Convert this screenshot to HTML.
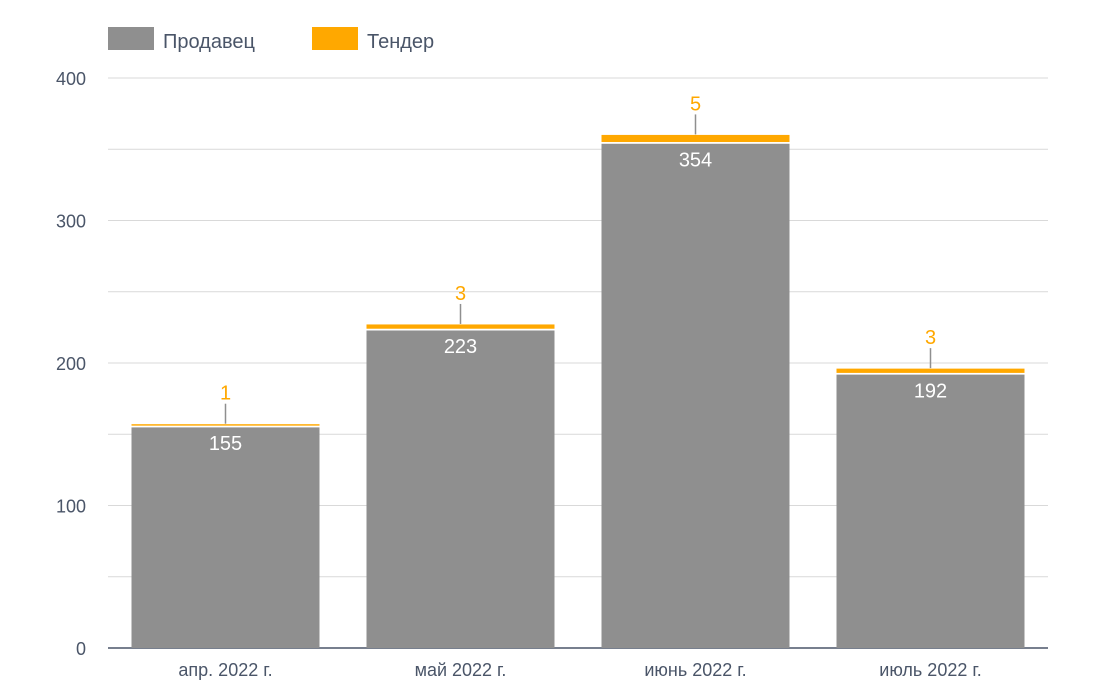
<!DOCTYPE html>
<html><head><meta charset="utf-8"><style>
body{margin:0;background:#fff;}
svg{font-family:"Liberation Sans","DejaVu Sans",sans-serif;}
</style></head><body>
<svg width="1110" height="692">
<g>
<rect x="108" y="27" width="46" height="23" fill="#8f8f8f"/>
<text x="163" y="48" font-size="20" fill="#4a5568">Продавец</text>
<rect x="312" y="27" width="46" height="23" fill="#ffa800"/>
<text x="367" y="48" font-size="20" fill="#4a5568">Тендер</text>
</g>
<g id="grid"></g><g id="bars"></g><g id="xlab"></g>
</svg>
<script>
const categories=["апр. 2022 г.","май 2022 г.","июнь 2022 г.","июль 2022 г."];
const seller=[155,223,354,192];
const tender=[1,3,5,3];
const yTicks=[0,100,200,300,400];
const ns="http://www.w3.org/2000/svg";
const X0=108,X1=1048,Y0=648,Y1=78,YMAX=400;
const y=v=>Y0-(v/YMAX)*(Y0-Y1);
const band=(X1-X0)/categories.length;
const bw=band*0.8;
function mk(tag,attrs,parent,text){const e=document.createElementNS(ns,tag);for(const k in attrs)e.setAttribute(k,attrs[k]);if(text!==undefined)e.textContent=text;document.getElementById(parent).appendChild(e);return e;}
for(let v=0;v<=YMAX;v+=50){
 const l=mk("line",{x1:X0,x2:X1,y1:y(v),y2:y(v),stroke:v===0?"#4a5568":"#d9d9d9","stroke-width":v===0?1.5:1},"grid");
 
 
}
yTicks.forEach(v=>{
 const t=mk("text",{x:86,y:y(v)+7,"text-anchor":"end","font-size":18,fill:"#4a5568"},"grid",v);
 
 
});
categories.forEach((c,i)=>{
 const cx=X0+band*(i+0.5),bx=cx-bw/2;
 const s=mk("rect",{x:bx,y:y(seller[i]),width:bw,height:Y0-y(seller[i]),fill:"#8f8f8f"},"bars");
 
 
 const top=seller[i]+tender[i];
 const t=mk("rect",{x:bx,y:y(top)-1.5,width:bw,height:Math.max(y(seller[i])-y(top),1.5),fill:"#ffa800"},"bars");
 
 
 const g=mk("line",{x1:bx,x2:bx+bw,y1:y(seller[i])-0.5,y2:y(seller[i])-0.5,stroke:"#fff","stroke-width":1.5},"bars");
 
 
 const sl=mk("text",{x:cx,y:y(seller[i])+23,"text-anchor":"middle","font-size":20,fill:"#fff"},"bars",seller[i]);
 
 
 const ll=mk("line",{x1:cx,x2:cx,y1:y(top)-22,y2:y(top)-2,stroke:"#8f8f8f","stroke-width":1.5},"bars");
 
 
 const tl=mk("text",{x:cx,y:y(top)-26,"text-anchor":"middle","font-size":20,fill:"#ffa800"},"bars",tender[i]);
 
 
 const xl=mk("text",{x:cx,y:676,"text-anchor":"middle","font-size":18,fill:"#4a5568"},"xlab",c);
 
 
});
</script>
</body></html>
